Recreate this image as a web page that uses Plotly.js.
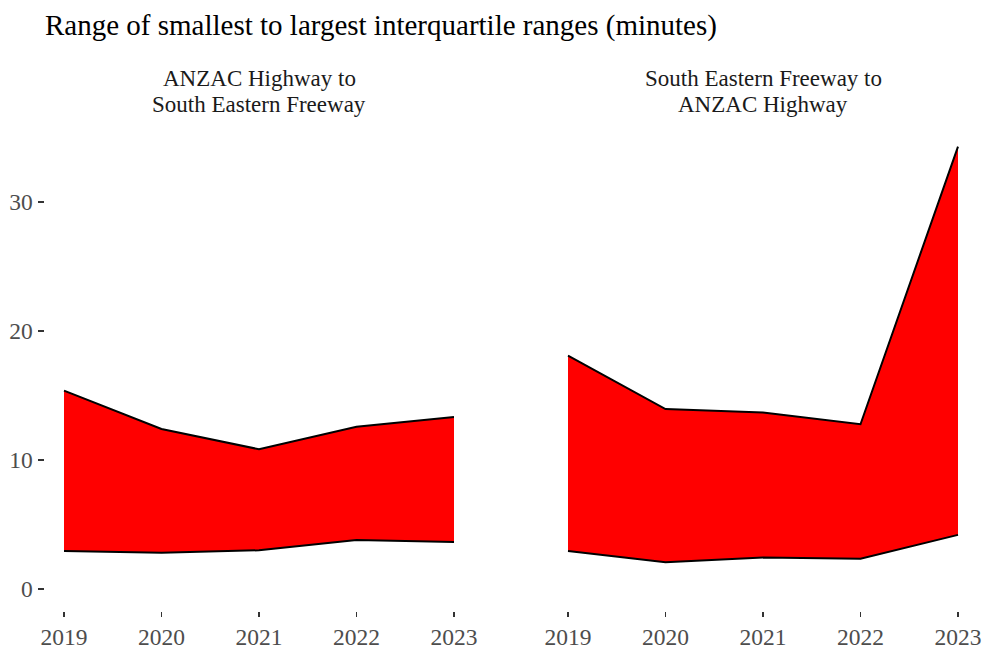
<!DOCTYPE html>
<html><head><meta charset="utf-8">
<script src="https://cdn.plot.ly/plotly-3.0.1.min.js"></script>
<style>html,body{margin:0;padding:0;background:#fff}#chart{width:987px;height:653px}</style>
</head><body><div id="chart"></div>
<script>
const years = [2019, 2020, 2021, 2022, 2023];
const panelTitles = [["ANZAC Highway to", "South Eastern Freeway"], ["South Eastern Freeway to", "ANZAC Highway"]];
const anzacToSefLower = [2.95, 2.81, 3.0, 3.8, 3.64];
const anzacToSefUpper = [15.37, 12.4, 10.83, 12.58, 13.33];
const sefToAnzacLower = [2.95, 2.07, 2.43, 2.35, 4.19];
const sefToAnzacUpper = [18.09, 13.95, 13.67, 12.77, 34.29];
const yTicks = [0, 10, 20, 30];

const font = "Liberation Serif, Times New Roman, serif";
const lineStyle = {color: "#000", width: 2};

function pair(lower, upper, xa, ya) {
  return [
    {x: years, y: lower, xaxis: xa, yaxis: ya, mode: "lines", line: lineStyle, hoverinfo: "skip", showlegend: false},
    {x: years, y: upper, xaxis: xa, yaxis: ya, mode: "lines", line: lineStyle, fill: "tonexty", fillcolor: "#ff0000", hoverinfo: "skip", showlegend: false}
  ];
}
const data = [].concat(pair(anzacToSefLower, anzacToSefUpper, "x", "y"), pair(sefToAnzacLower, sefToAnzacUpper, "x2", "y2"));

const yDomain = [1 - 611/653, 1 - 124.6/653];
const yRange = [-1.71, 36.0];
const xRange = [2018.8, 2023.2];
const tickFont = {family: font, size: 23.5, color: "#4d4d4d"};
function xax(domain) {
  return {domain: domain, range: xRange, tickvals: years, ticktext: years.map(String), ticks: "outside", ticklen: 5, tickwidth: 1.5, tickcolor: "#333",
    showgrid: false, zeroline: false, showline: false, tickfont: tickFont, fixedrange: true};
}
function yax(domain, anchor, showLabels) {
  return {domain: domain, anchor: anchor, range: yRange, tickvals: yTicks, ticks: showLabels ? "outside" : "", ticklen: 6, tickwidth: 1.5, tickcolor: "#333",
    showticklabels: showLabels, showgrid: false, zeroline: false, showline: false, tickfont: tickFont, fixedrange: true};
}
const centers = [259/987, 763/987];
const lineYs = [1 - 78/653, 1 - 104/653];
const annotations = [];
panelTitles.forEach((lines, p) => lines.forEach((t, i) => annotations.push({
  text: t, xref: "paper", yref: "paper", x: centers[p], y: lineYs[i], xanchor: "center", yanchor: "middle", showarrow: false,
  font: {family: font, size: 23, color: "#1a1a1a"}
})));
const layout = {
  width: 987, height: 653,
  margin: {l: 0, r: 0, t: 0, b: 0},
  paper_bgcolor: "#fff", plot_bgcolor: "#fff",
  title: {text: "Range of smallest to largest interquartile ranges (minutes)", x: 45/987, xanchor: "left", y: 1 - 25/653, yanchor: "middle",
    font: {family: font, size: 29, color: "#000"}},
  xaxis: Object.assign(xax([44.5/987, 473.5/987]), {anchor: "y"}),
  yaxis: yax(yDomain, "x", true),
  xaxis2: Object.assign(xax([548.5/987, 977.5/987]), {anchor: "y2"}),
  yaxis2: yax(yDomain, "x2", false),
  annotations: annotations
};
Plotly.newPlot("chart", data, layout, {displayModeBar: false, staticPlot: true});
</script></body></html>
